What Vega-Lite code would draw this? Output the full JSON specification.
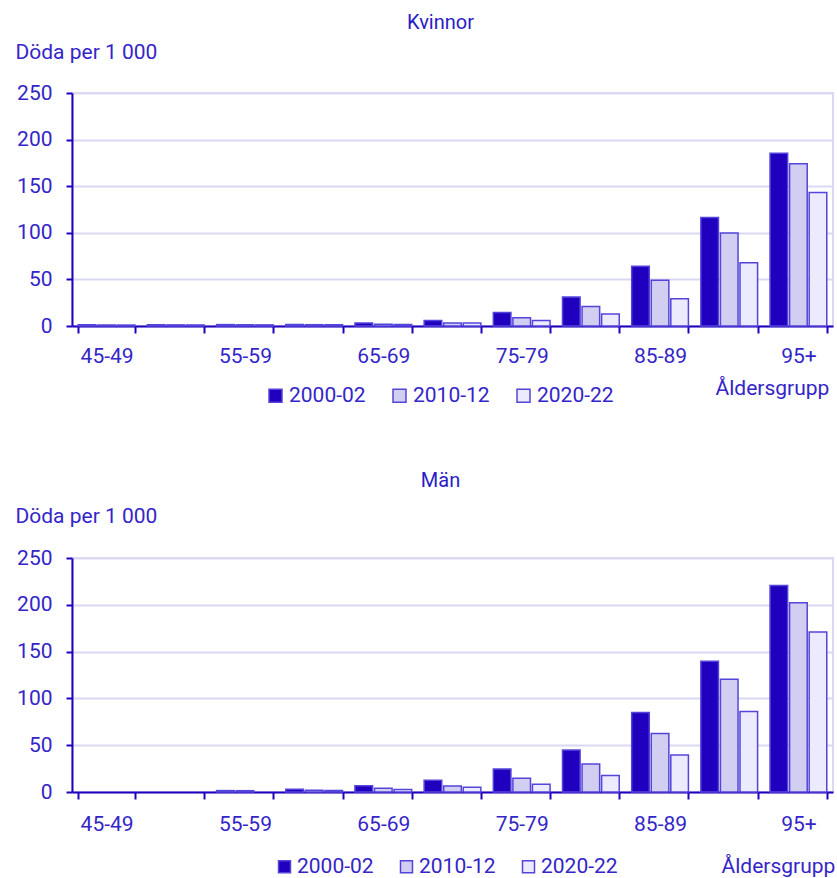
{
  "$schema": "https://vega.github.io/schema/vega-lite/v6.json",
  "background": "white",
  "padding": {"left": 14, "top": 12, "right": 0, "bottom": 0},
  "config": {
    "font": "Roboto",
    "view": {"stroke": "#d9d9f3", "strokeWidth": 2},
    "concat": {"spacing": 63},
    "title": {"fontSize": 20, "fontWeight": "normal", "color": "#2a1bc6", "anchor": "middle", "frame": "group", "dx": -12},
    "axis": {
      "labelFont": "Roboto", "titleFont": "Roboto",
      "labelColor": "#3425c8", "titleColor": "#3425c8",
      "labelFontSize": 21, "titleFontSize": 21, "titleFontWeight": "normal",
      "domainColor": "#2000be", "domainWidth": 2,
      "tickColor": "#2000be", "tickWidth": 2
    },
    "legend": {
      "labelFont": "Roboto", "labelColor": "#3425c8", "labelFontSize": 21
    }
  },
  "datasets": {
    "d": [
      {"kon": "Kvinnor", "alder": "45-49", "period": "2000-02", "value": 1.3},
      {"kon": "Kvinnor", "alder": "45-49", "period": "2010-12", "value": 1.1},
      {"kon": "Kvinnor", "alder": "45-49", "period": "2020-22", "value": 1.0},
      {"kon": "Kvinnor", "alder": "50-54", "period": "2000-02", "value": 1.4},
      {"kon": "Kvinnor", "alder": "50-54", "period": "2010-12", "value": 1.2},
      {"kon": "Kvinnor", "alder": "50-54", "period": "2020-22", "value": 1.1},
      {"kon": "Kvinnor", "alder": "55-59", "period": "2000-02", "value": 1.5},
      {"kon": "Kvinnor", "alder": "55-59", "period": "2010-12", "value": 1.3},
      {"kon": "Kvinnor", "alder": "55-59", "period": "2020-22", "value": 1.2},
      {"kon": "Kvinnor", "alder": "60-64", "period": "2000-02", "value": 1.6},
      {"kon": "Kvinnor", "alder": "60-64", "period": "2010-12", "value": 1.4},
      {"kon": "Kvinnor", "alder": "60-64", "period": "2020-22", "value": 1.3},
      {"kon": "Kvinnor", "alder": "65-69", "period": "2000-02", "value": 3.2},
      {"kon": "Kvinnor", "alder": "65-69", "period": "2010-12", "value": 1.8},
      {"kon": "Kvinnor", "alder": "65-69", "period": "2020-22", "value": 1.6},
      {"kon": "Kvinnor", "alder": "70-74", "period": "2000-02", "value": 6},
      {"kon": "Kvinnor", "alder": "70-74", "period": "2010-12", "value": 3.2},
      {"kon": "Kvinnor", "alder": "70-74", "period": "2020-22", "value": 3.2},
      {"kon": "Kvinnor", "alder": "75-79", "period": "2000-02", "value": 14.6},
      {"kon": "Kvinnor", "alder": "75-79", "period": "2010-12", "value": 8.9},
      {"kon": "Kvinnor", "alder": "75-79", "period": "2020-22", "value": 6},
      {"kon": "Kvinnor", "alder": "80-84", "period": "2000-02", "value": 31},
      {"kon": "Kvinnor", "alder": "80-84", "period": "2010-12", "value": 21},
      {"kon": "Kvinnor", "alder": "80-84", "period": "2020-22", "value": 13},
      {"kon": "Kvinnor", "alder": "85-89", "period": "2000-02", "value": 64},
      {"kon": "Kvinnor", "alder": "85-89", "period": "2010-12", "value": 49},
      {"kon": "Kvinnor", "alder": "85-89", "period": "2020-22", "value": 29.3},
      {"kon": "Kvinnor", "alder": "90-94", "period": "2000-02", "value": 116.4},
      {"kon": "Kvinnor", "alder": "90-94", "period": "2010-12", "value": 99.7},
      {"kon": "Kvinnor", "alder": "90-94", "period": "2020-22", "value": 67.8},
      {"kon": "Kvinnor", "alder": "95+", "period": "2000-02", "value": 185.4},
      {"kon": "Kvinnor", "alder": "95+", "period": "2010-12", "value": 174},
      {"kon": "Kvinnor", "alder": "95+", "period": "2020-22", "value": 143.2},
      {"kon": "Män", "alder": "55-59", "period": "2000-02", "value": 1.5},
      {"kon": "Män", "alder": "55-59", "period": "2010-12", "value": 1.4},
      {"kon": "Män", "alder": "60-64", "period": "2000-02", "value": 2.9},
      {"kon": "Män", "alder": "60-64", "period": "2010-12", "value": 1.8},
      {"kon": "Män", "alder": "60-64", "period": "2020-22", "value": 1.7},
      {"kon": "Män", "alder": "65-69", "period": "2000-02", "value": 6.8},
      {"kon": "Män", "alder": "65-69", "period": "2010-12", "value": 3.9},
      {"kon": "Män", "alder": "65-69", "period": "2020-22", "value": 2.6},
      {"kon": "Män", "alder": "70-74", "period": "2000-02", "value": 12.5},
      {"kon": "Män", "alder": "70-74", "period": "2010-12", "value": 6.4},
      {"kon": "Män", "alder": "70-74", "period": "2020-22", "value": 5},
      {"kon": "Män", "alder": "75-79", "period": "2000-02", "value": 24.5},
      {"kon": "Män", "alder": "75-79", "period": "2010-12", "value": 14.6},
      {"kon": "Män", "alder": "75-79", "period": "2020-22", "value": 8.2},
      {"kon": "Män", "alder": "80-84", "period": "2000-02", "value": 44.8},
      {"kon": "Män", "alder": "80-84", "period": "2010-12", "value": 29.8},
      {"kon": "Män", "alder": "80-84", "period": "2020-22", "value": 17.5},
      {"kon": "Män", "alder": "85-89", "period": "2000-02", "value": 85},
      {"kon": "Män", "alder": "85-89", "period": "2010-12", "value": 62.6},
      {"kon": "Män", "alder": "85-89", "period": "2020-22", "value": 39.4},
      {"kon": "Män", "alder": "90-94", "period": "2000-02", "value": 139.6},
      {"kon": "Män", "alder": "90-94", "period": "2010-12", "value": 120.4},
      {"kon": "Män", "alder": "90-94", "period": "2020-22", "value": 86},
      {"kon": "Män", "alder": "95+", "period": "2000-02", "value": 220.6},
      {"kon": "Män", "alder": "95+", "period": "2010-12", "value": 202.2},
      {"kon": "Män", "alder": "95+", "period": "2020-22", "value": 171}
    ]
  },
  "resolve": {"scale": {"color": "independent"}, "legend": {"color": "independent"}},
  "vconcat": [
    {
      "width": 761,
      "height": 233,
      "title": {"text": "Kvinnor", "offset": 8},
      "data": {"name": "d"},
      "transform": [{"filter": "datum.kon === 'Kvinnor'"}],
      "mark": {"type": "bar", "stroke": "#5445da", "strokeWidth": 1.5},
      "encoding": {
        "x": {
          "field": "alder", "type": "nominal",
          "scale": {"domain": ["45-49", "50-54", "55-59", "60-64", "65-69", "70-74", "75-79", "80-84", "85-89", "90-94", "95+"], "paddingInner": 0.18, "paddingOuter": 0.09},
          "axis": {
            "title": "Åldersgrupp", "titleX": 643, "titleY": 68, "titleAlign": "left", "titleBaseline": "alphabetic", "titleAnchor": null,
            "labelAngle": 0, "tickBand": "extent", "tickSize": 7, "labelPadding": 12, "grid": false,
            "labelExpr": "indexof(['45-49','55-59','65-69','75-79','85-89','95+'], datum.value) >= 0 ? datum.label : ''"
          }
        },
        "xOffset": {"field": "period", "type": "nominal", "scale": {"domain": ["2000-02", "2010-12", "2020-22"], "paddingInner": 0.1}},
        "y": {
          "field": "value", "type": "quantitative",
          "scale": {"domain": [0, 250]},
          "axis": {
            "values": [0, 50, 100, 150, 200, 250], "grid": true, "gridColor": "#d9d9f3", "gridWidth": 2,
            "tickSize": 6, "labelPadding": 14,
            "title": "Döda per 1 000", "titleAngle": 0, "titleX": -57, "titleY": -35, "titleAlign": "left", "titleBaseline": "alphabetic"
          }
        },
        "color": {
          "field": "period", "type": "nominal",
          "scale": {"domain": ["2000-02", "2010-12", "2020-22"], "range": ["#2000be", "#d2cef2", "#ecebfd"]},
          "legend": {
            "title": null, "orient": "none", "legendX": 193, "legendY": 292, "direction": "horizontal",
            "symbolType": "square", "symbolSize": 169, "symbolStrokeColor": "#5445da", "symbolStrokeWidth": 1.5, "symbolOpacity": 1,
            "labelOffset": 3, "columnPadding": 23
          }
        }
      }
    },
    {
      "width": 761,
      "height": 234,
      "title": {"text": "Män", "offset": 14},
      "data": {"name": "d"},
      "transform": [{"filter": "datum.kon === 'Män'"}],
      "mark": {"type": "bar", "stroke": "#5445da", "strokeWidth": 1.5},
      "encoding": {
        "x": {
          "field": "alder", "type": "nominal",
          "scale": {"domain": ["45-49", "50-54", "55-59", "60-64", "65-69", "70-74", "75-79", "80-84", "85-89", "90-94", "95+"], "paddingInner": 0.18, "paddingOuter": 0.09},
          "axis": {
            "title": "Åldersgrupp", "titleX": 649, "titleY": 80, "titleAlign": "left", "titleBaseline": "alphabetic", "titleAnchor": null,
            "labelAngle": 0, "tickBand": "extent", "tickSize": 7, "labelPadding": 14, "grid": false,
            "labelExpr": "indexof(['45-49','55-59','65-69','75-79','85-89','95+'], datum.value) >= 0 ? datum.label : ''"
          }
        },
        "xOffset": {"field": "period", "type": "nominal", "scale": {"domain": ["2000-02", "2010-12", "2020-22"], "paddingInner": 0.1}},
        "y": {
          "field": "value", "type": "quantitative",
          "scale": {"domain": [0, 250]},
          "axis": {
            "values": [0, 50, 100, 150, 200, 250], "grid": true, "gridColor": "#d9d9f3", "gridWidth": 2,
            "tickSize": 6, "labelPadding": 14,
            "title": "Döda per 1 000", "titleAngle": 0, "titleX": -57, "titleY": -36, "titleAlign": "left", "titleBaseline": "alphabetic"
          }
        },
        "color": {
          "field": "period", "type": "nominal",
          "scale": {"domain": ["2000-02", "2010-12", "2020-22"], "range": ["#2000be", "#d2cef2", "#ecebfd"]},
          "legend": {
            "title": null, "orient": "none", "legendX": 202, "legendY": 298, "direction": "horizontal",
            "symbolType": "square", "symbolSize": 144, "symbolStrokeColor": "#5445da", "symbolStrokeWidth": 1.5, "symbolOpacity": 1,
            "labelOffset": 2, "columnPadding": 22
          }
        }
      }
    }
  ]
}
